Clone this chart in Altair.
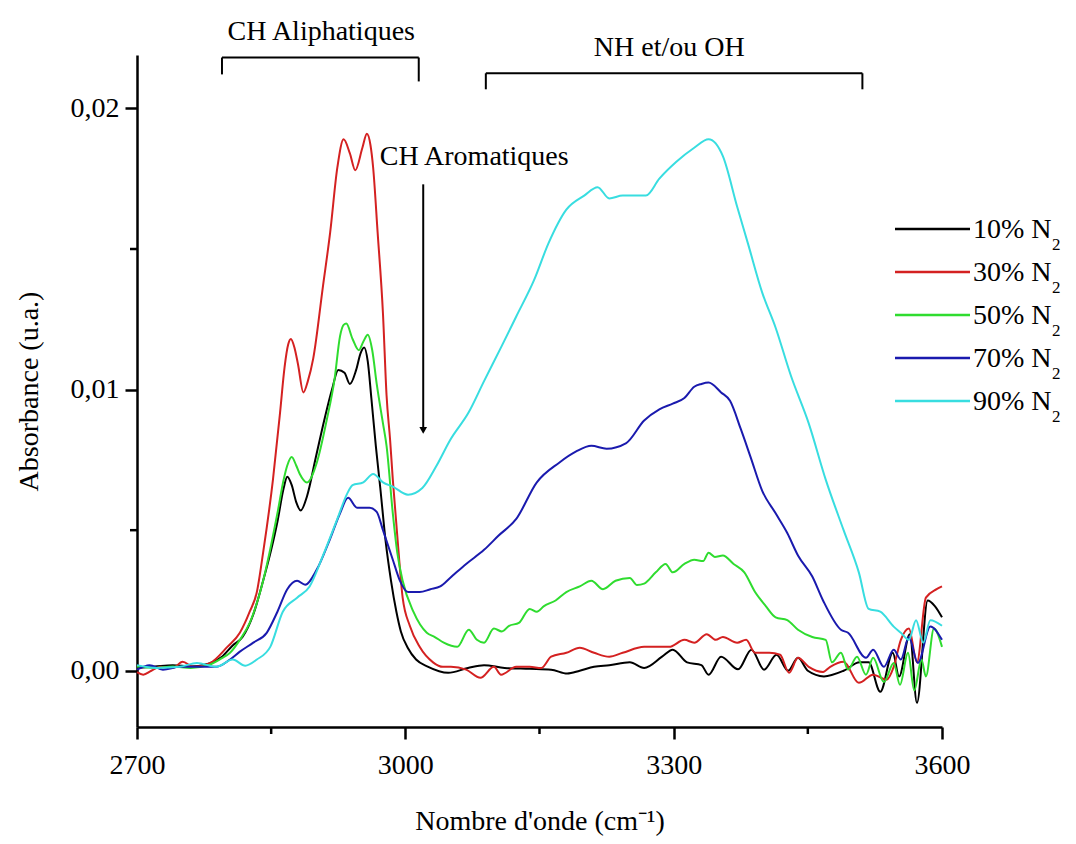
import altair as alt
import pandas as pd

FONT = "Liberation Serif"

series = ["10% N2", "30% N2", "50% N2", "70% N2", "90% N2"]
legend_labels = ["10% N", "30% N", "50% N", "70% N", "90% N"]
colors = ["#000000", "#d42121", "#2fdc2f", "#1a1aae", "#38dde0"]

# (wavenumber cm-1, absorbance)
black = [(2700, 0.1e-3), (2720, 0.15e-3), (2740, 0.2e-3), (2760, 0.15e-3), (2780, 0.25e-3),
         (2795, 0.5e-3), (2807, 0.9e-3), (2818, 1.2e-3), (2830, 2.0e-3), (2841, 3.2e-3),
         (2850, 4.3e-3), (2857, 5.3e-3), (2864, 6.5e-3), (2868, 6.9e-3), (2873, 6.6e-3),
         (2878, 6.0e-3), (2883, 5.7e-3), (2890, 6.2e-3), (2900, 7.6e-3), (2910, 9.0e-3),
         (2918, 10.0e-3), (2925, 10.7e-3), (2932, 10.6e-3), (2938, 10.2e-3), (2945, 10.7e-3),
         (2950, 11.3e-3), (2954, 11.5e-3), (2958, 11.0e-3), (2962, 9.7e-3), (2967, 8.0e-3),
         (2972, 6.5e-3), (2978, 4.6e-3), (2984, 3.2e-3), (2990, 2.1e-3), (2995, 1.4e-3),
         (3003, 0.8e-3), (3012, 0.4e-3), (3025, 0.15e-3), (3048, -0.07e-3), (3070, 0.1e-3),
         (3088, 0.2e-3), (3111, 0.1e-3), (3139, 0.07e-3), (3163, 0.04e-3), (3181, -0.1e-3),
         (3195, 0.0), (3211, 0.14e-3), (3228, 0.2e-3), (3251, 0.3e-3), (3267, 0.1e-3),
         (3287, 0.5e-3), (3299, 0.75e-3), (3315, 0.3e-3), (3331, 0.2e-3), (3339, -0.14e-3),
         (3353, 0.5e-3), (3372, 0.05e-3), (3387, 0.75e-3), (3401, 0.04e-3), (3415, 0.57e-3),
         (3428, 0.0), (3439, 0.46e-3), (3450, 0.0), (3468, -0.2e-3), (3490, 0.0),
         (3508, 0.3e-3), (3518, 0.3e-3), (3531, -0.75e-3), (3545, 0.64e-3), (3552, -0.2e-3),
         (3564, 1.3e-3), (3572, -1.14e-3), (3584, 2.5e-3), (3592, 2.3e-3), (3600, 1.9e-3)]

red = [(2700, -0.05e-3), (2707, -0.14e-3), (2716, 0.0), (2726, 0.14e-3), (2740, 0.1e-3),
       (2751, 0.32e-3), (2763, 0.14e-3), (2782, 0.28e-3), (2801, 0.85e-3), (2815, 1.35e-3),
       (2826, 2.1e-3), (2834, 2.8e-3), (2841, 4.2e-3), (2852, 6.8e-3), (2860, 9.2e-3),
       (2865, 10.8e-3), (2869, 11.6e-3), (2872, 11.8e-3), (2876, 11.5e-3), (2880, 10.9e-3),
       (2886, 9.9e-3), (2891, 10.3e-3), (2897, 11.1e-3), (2908, 13.7e-3), (2916, 15.6e-3),
       (2924, 17.9e-3), (2931, 18.9e-3), (2938, 18.4e-3), (2944, 17.8e-3), (2952, 18.6e-3),
       (2957, 19.1e-3), (2961, 18.7e-3), (2964, 17.9e-3), (2969, 15.6e-3), (2975, 12.7e-3),
       (2979, 9.8e-3), (2983, 8.2e-3), (2986, 6.8e-3), (2992, 4.4e-3), (2997, 2.6e-3),
       (3005, 1.6e-3), (3016, 0.85e-3), (3031, 0.3e-3), (3042, 0.14e-3), (3051, 0.14e-3),
       (3068, 0.04e-3), (3084, -0.25e-3), (3099, 0.14e-3), (3107, -0.14e-3), (3124, 0.14e-3),
       (3139, 0.14e-3), (3152, 0.1e-3), (3163, 0.5e-3), (3180, 0.64e-3), (3195, 0.82e-3),
       (3211, 0.64e-3), (3228, 0.5e-3), (3243, 0.64e-3), (3267, 0.85e-3), (3279, 0.85e-3),
       (3295, 0.85e-3), (3312, 1.1e-3), (3323, 1.0e-3), (3337, 1.3e-3), (3347, 1.1e-3),
       (3355, 1.2e-3), (3371, 1.0e-3), (3381, 1.1e-3), (3391, 0.64e-3), (3407, 0.64e-3),
       (3419, 0.57e-3), (3429, -0.07e-3), (3439, 0.46e-3), (3451, 0.14e-3), (3467, -0.04e-3),
       (3475, 0.14e-3), (3490, 0.32e-3), (3507, -0.43e-3), (3523, -0.14e-3), (3538, -0.32e-3),
       (3546, 0.14e-3), (3554, 1.1e-3), (3563, 1.5e-3), (3572, 0.3e-3), (3582, 2.6e-3),
       (3594, 2.9e-3), (3600, 3.0e-3)]

green = [(2700, 0.15e-3), (2720, 0.1e-3), (2740, 0.15e-3), (2760, 0.1e-3), (2780, 0.2e-3),
         (2795, 0.45e-3), (2804, 0.64e-3), (2815, 1.1e-3), (2826, 1.7e-3), (2841, 3.2e-3),
         (2857, 5.6e-3), (2864, 6.8e-3), (2868, 7.3e-3), (2873, 7.6e-3), (2878, 7.3e-3),
         (2882, 7.0e-3), (2890, 6.7e-3), (2901, 7.4e-3), (2912, 8.9e-3), (2921, 10.4e-3),
         (2927, 11.9e-3), (2931, 12.3e-3), (2934, 12.35e-3), (2941, 11.8e-3), (2948, 11.4e-3),
         (2953, 11.7e-3), (2958, 11.95e-3), (2963, 11.4e-3), (2968, 10.2e-3), (2975, 8.8e-3),
         (2979, 8.0e-3), (2986, 5.6e-3), (2991, 4.2e-3), (2997, 3.2e-3), (3009, 2.1e-3),
         (3024, 1.35e-3), (3033, 1.2e-3), (3043, 1.0e-3), (3058, 0.85e-3), (3071, 1.46e-3),
         (3080, 1.1e-3), (3088, 1.0e-3), (3099, 1.5e-3), (3108, 1.4e-3), (3116, 1.6e-3),
         (3127, 1.7e-3), (3139, 2.2e-3), (3147, 2.1e-3), (3155, 2.3e-3), (3168, 2.5e-3),
         (3180, 2.8e-3), (3195, 3.0e-3), (3208, 3.2e-3), (3221, 2.9e-3), (3235, 3.2e-3),
         (3251, 3.3e-3), (3259, 3.05e-3), (3267, 3.1e-3), (3280, 3.5e-3), (3291, 3.8e-3),
         (3299, 3.5e-3), (3312, 3.8e-3), (3323, 3.95e-3), (3333, 3.9e-3), (3339, 4.2e-3),
         (3346, 4.05e-3), (3355, 4.1e-3), (3367, 3.8e-3), (3379, 3.5e-3), (3391, 2.8e-3),
         (3403, 2.3e-3), (3414, 1.9e-3), (3427, 1.8e-3), (3439, 1.46e-3), (3455, 1.2e-3),
         (3470, 1.1e-3), (3477, 0.3e-3), (3487, 0.64e-3), (3495, 0.04e-3), (3505, 0.5e-3),
         (3515, -0.14e-3), (3523, 0.46e-3), (3535, -0.4e-3), (3546, 0.28e-3), (3553, -0.5e-3),
         (3562, 0.64e-3), (3569, -0.7e-3), (3577, 0.4e-3), (3582, -0.2e-3), (3591, 1.5e-3),
         (3600, 0.85e-3)]

blue = [(2700, 0.04e-3), (2714, 0.2e-3), (2729, 0.04e-3), (2748, 0.14e-3), (2767, 0.14e-3),
        (2789, 0.14e-3), (2804, 0.4e-3), (2815, 0.68e-3), (2830, 1.0e-3), (2845, 1.35e-3),
        (2857, 2.1e-3), (2868, 2.9e-3), (2879, 3.2e-3), (2888, 3.06e-3), (2901, 3.6e-3),
        (2916, 4.7e-3), (2927, 5.6e-3), (2936, 6.15e-3), (2946, 5.8e-3), (2953, 5.8e-3),
        (2960, 5.8e-3), (2968, 5.65e-3), (2975, 5.0e-3), (2986, 3.95e-3), (2994, 3.2e-3),
        (3003, 2.8e-3), (3016, 2.8e-3), (3028, 2.9e-3), (3039, 3.0e-3), (3050, 3.3e-3),
        (3068, 3.8e-3), (3088, 4.3e-3), (3104, 4.8e-3), (3124, 5.4e-3), (3147, 6.7e-3),
        (3172, 7.4e-3), (3191, 7.8e-3), (3208, 8.0e-3), (3225, 7.9e-3), (3247, 8.1e-3),
        (3267, 8.9e-3), (3284, 9.3e-3), (3299, 9.5e-3), (3312, 9.7e-3), (3323, 10.1e-3),
        (3331, 10.2e-3), (3339, 10.25e-3), (3353, 9.9e-3), (3363, 9.6e-3), (3375, 8.6e-3),
        (3386, 7.6e-3), (3399, 6.4e-3), (3414, 5.6e-3), (3427, 4.9e-3), (3439, 4.1e-3),
        (3455, 3.35e-3), (3467, 2.5e-3), (3487, 1.46e-3), (3495, 1.35e-3), (3515, 0.46e-3),
        (3523, 0.75e-3), (3535, 0.14e-3), (3546, 0.75e-3), (3554, 0.4e-3), (3563, 1.2e-3),
        (3573, 0.28e-3), (3587, 1.57e-3), (3600, 1.1e-3)]

cyan = [(2700, 0.2e-3), (2722, 0.1e-3), (2748, 0.14e-3), (2767, 0.28e-3), (2789, 0.14e-3),
        (2807, 0.4e-3), (2821, 0.18e-3), (2834, 0.4e-3), (2849, 0.85e-3), (2863, 2.1e-3),
        (2879, 2.6e-3), (2893, 3.0e-3), (2908, 4.1e-3), (2924, 5.4e-3), (2935, 6.3e-3),
        (2941, 6.6e-3), (2953, 6.7e-3), (2964, 7.0e-3), (2975, 6.7e-3), (2986, 6.55e-3),
        (3003, 6.26e-3), (3019, 6.5e-3), (3035, 7.3e-3), (3050, 8.2e-3), (3071, 9.2e-3),
        (3088, 10.3e-3), (3107, 11.5e-3), (3124, 12.6e-3), (3144, 13.9e-3), (3160, 15.2e-3),
        (3180, 16.4e-3), (3200, 16.9e-3), (3215, 17.2e-3), (3228, 16.8e-3), (3243, 16.9e-3),
        (3259, 16.9e-3), (3269, 16.9e-3), (3284, 17.5e-3), (3303, 18.1e-3), (3323, 18.6e-3),
        (3339, 18.9e-3), (3355, 18.3e-3), (3371, 16.5e-3), (3383, 15.2e-3), (3399, 13.45e-3),
        (3414, 12.2e-3), (3431, 10.5e-3), (3451, 8.8e-3), (3470, 6.8e-3), (3490, 5.0e-3),
        (3507, 3.5e-3), (3518, 2.2e-3), (3531, 2.1e-3), (3546, 1.57e-3), (3554, 1.35e-3),
        (3563, 1.1e-3), (3571, 1.8e-3), (3579, 1.0e-3), (3587, 1.8e-3), (3600, 1.6e-3)]

x_ticks = [2700, 3000, 3300, 3600]
x_minor = [2850, 3150, 3450]
y_ticks = [0.0, 0.01, 0.02]
y_minor = [0.005, 0.015]

# annotation brackets (x, x2, y, y2)
br_x = [2795, 2795, 3015, 3090, 3090, 3511]
br_x2 = [3015, 2795, 3015, 3511, 3090, 3511]
br_y = [21.81e-3, 21.81e-3, 21.81e-3, 21.25e-3, 21.25e-3, 21.25e-3]
br_y2 = [21.81e-3, 21.21e-3, 20.96e-3, 21.25e-3, 20.68e-3, 20.68e-3]

ann_text = ["CH Aliphatiques", "NH et/ou OH", "CH Aromatiques"]
ann_x = [2906, 3295, 3077]
ann_y = [22.45e-3, 21.85e-3, 18.0e-3]

arrow_x = [3020]
arrow_top = [17.3e-3]
arrow_tip = [8.55e-3]

rows = []
for name, pts in zip(series, [black, red, green, blue, cyan]):
    for i, (w, a) in enumerate(pts):
        rows.append({"series": name, "w": w, "a": a, "i": i})
df = pd.DataFrame(rows)

XD = [2700, 3600]
YD = [-0.002, 0.0219]
xs = alt.Scale(domain=XD, nice=False, zero=False)
ys = alt.Scale(domain=YD, nice=False, zero=False)
cs = alt.Scale(domain=series, range=colors)

x_axis = alt.Axis(values=x_ticks, format="d", title="Nombre d'onde (cm⁻¹)", grid=False,
                  domainColor="black", domainWidth=2.5, tickColor="black", tickWidth=2.5,
                  tickSize=12, labelFontSize=28, labelPadding=12, labelColor="black",
                  labelFont=FONT, labelFlush=False, titleFont=FONT, titleFontSize=28,
                  titleFontWeight="normal", titleColor="black", titleY=102,
                  titleBaseline="alphabetic")
y_axis = alt.Axis(values=y_ticks, labelExpr="replace(format(datum.value, '.2f'), '.', ',')",
                  title="Absorbance (u.a.)", grid=False, domainColor="black", domainWidth=2.5,
                  tickColor="black", tickWidth=2.5, tickSize=12, labelFontSize=28,
                  labelPadding=6, labelColor="black", labelFont=FONT, labelFlush=False,
                  titleFont=FONT, titleFontSize=28, titleFontWeight="normal",
                  titleColor="black", titleX=-100, titleY=336, titleAngle=270,
                  titleBaseline="alphabetic")

lines = alt.Chart(df).mark_line(strokeWidth=2, interpolate="monotone").encode(
    x=alt.X("w:Q", scale=xs, axis=x_axis),
    y=alt.Y("a:Q", scale=ys, axis=y_axis),
    color=alt.Color("series:N", scale=cs, legend=None),
    detail="series:N",
)

xm = alt.Chart(pd.DataFrame({"w": x_minor})).mark_rule(color="black", strokeWidth=2.5).encode(
    x=alt.X("w:Q", scale=xs), y=alt.value(672), y2=alt.value(679))
ym = alt.Chart(pd.DataFrame({"a": y_minor})).mark_rule(color="black", strokeWidth=2.5).encode(
    y=alt.Y("a:Q", scale=ys), x=alt.value(0), x2=alt.value(-7))

brackets = alt.Chart(pd.DataFrame({"x": br_x, "x2": br_x2, "y": br_y, "y2": br_y2})).mark_rule(
    color="black", strokeWidth=2).encode(
    x=alt.X("x:Q", scale=xs), x2="x2:Q", y=alt.Y("y:Q", scale=ys), y2="y2:Q")

texts = alt.Chart(pd.DataFrame({"t": ann_text, "x": ann_x, "y": ann_y})).mark_text(
    font=FONT, fontSize=28, color="black", align="center", baseline="alphabetic").encode(
    x=alt.X("x:Q", scale=xs), y=alt.Y("y:Q", scale=ys), text="t:N")

adf = pd.DataFrame({"x": arrow_x, "top": arrow_top, "tip": arrow_tip})
arrow = alt.Chart(adf).mark_rule(color="black", strokeWidth=2).encode(
    x=alt.X("x:Q", scale=xs), y=alt.Y("top:Q", scale=ys), y2="tip:Q")
head = alt.Chart(adf).mark_point(shape="triangle-down", filled=True, color="black", size=60,
                                 opacity=1).encode(
    x=alt.X("x:Q", scale=xs), y=alt.Y("tip:Q", scale=ys))

main = alt.layer(lines, xm, ym, brackets, texts, arrow, head)

ldf = pd.DataFrame({"series": series, "label": legend_labels})
ly = alt.Y("series:N", scale=alt.Scale(type="point", domain=series, range=[174, 346], padding=0),
           axis=None)
leg_lines = alt.Chart(ldf).mark_rule(strokeWidth=2.5).encode(
    x=alt.value(758), x2=alt.value(833), y=ly, color=alt.Color("series:N", scale=cs, legend=None))
leg_text = alt.Chart(ldf).mark_text(font=FONT, fontSize=28, align="left", baseline="alphabetic",
                                    dy=9, color="black").encode(
    x=alt.value(836), y=ly, text="label:N")
leg_sub = alt.Chart(ldf).mark_text(font=FONT, fontSize=17, align="left", baseline="alphabetic",
                                   dy=21, color="black").encode(
    x=alt.value(915), y=ly, text=alt.value("2"))
legend = alt.layer(leg_lines, leg_text, leg_sub)

chart = alt.layer(main, legend).resolve_scale(y="independent").properties(
    width=805, height=672,
    autosize=alt.AutoSizeParams(type="none"),
    padding={"left": 129, "top": 47, "right": 126, "bottom": 109},
).configure(font=FONT).configure_view(stroke="transparent", strokeWidth=0)

chart.save("out.html", embed_options={"renderer": "svg", "actions": False})
